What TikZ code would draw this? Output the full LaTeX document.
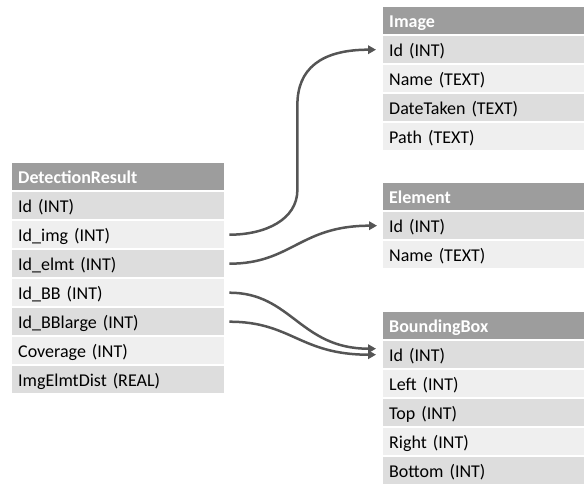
\documentclass[tikz,border=0pt]{standalone}
\usepackage{fontspec}
\setmainfont{Carlito}
\usetikzlibrary{arrows.meta}
\definecolor{hdrgray}{HTML}{9D9D9D}
\definecolor{rowdark}{HTML}{DDDDDD}
\definecolor{rowlight}{HTML}{EFEFEF}
\definecolor{linegray}{HTML}{555555}
\tikzset{
  cell/.style={rectangle, anchor=north west, minimum height=27pt, inner xsep=6pt, inner ysep=0pt,
    align=left, text height=14.5pt, text depth=0pt, font=\fontsize{18}{20}\selectfont},
  drcell/.style={cell, text width=200pt},
  rtcell/.style={cell, text width=189pt},
  hdr/.style={fill=hdrgray, text=white, font=\fontsize{18}{20}\selectfont\bfseries},
  rowA/.style={fill=rowdark},
  rowB/.style={fill=rowlight},
  conn/.style={draw=linegray, line width=2.5pt, -{Triangle[length=8pt,width=8.5pt]}}
}
\begin{document}
\begin{tikzpicture}[x=1pt,y=-1pt]
\path[use as bounding box] (0,0) rectangle (584,486);
% DetectionResult
\node[drcell,hdr]  (dhdr)  at (12,163) {DetectionResult};
\node[drcell,rowA] (did)   at (12,192) {Id (INT)};
\node[drcell,rowB] (dimg)  at (12,221) {Id\_img (INT)};
\node[drcell,rowA] (delmt) at (12,250) {Id\_elmt (INT)};
\node[drcell,rowB] (dbb)   at (12,279) {Id\_BB (INT)};
\node[drcell,rowA] (dbbl)  at (12,308) {Id\_BBlarge (INT)};
\node[drcell,rowB] (dcov)  at (12,337) {Coverage (INT)};
\node[drcell,rowA] (ddist) at (12,366) {ImgElmtDist (REAL)};
% Image
\node[rtcell,hdr]  (ihdr)  at (383,7) {Image};
\node[rtcell,rowA] (iid)   at (383,36) {Id (INT)};
\node[rtcell,rowB] (iname) at (383,65) {Name (TEXT)};
\node[rtcell,rowA] (idate) at (383,94) {DateTaken (TEXT)};
\node[rtcell,rowB] (ipath) at (383,123) {Path (TEXT)};
% Element
\node[rtcell,hdr]  (ehdr)  at (383,183) {Element};
\node[rtcell,rowA] (eid)   at (383,212) {Id (INT)};
\node[rtcell,rowB] (ename) at (383,241) {Name (TEXT)};
% BoundingBox
\node[rtcell,hdr]  (bhdr)  at (383,312) {BoundingBox};
\node[rtcell,rowA] (bid)   at (383,341) {Id (INT)};
\node[rtcell,rowB] (bleft) at (383,370) {Left (INT)};
\node[rtcell,rowA] (btop)  at (383,399) {Top (INT)};
\node[rtcell,rowB] (bright) at (383,428) {Right (INT)};
\node[rtcell,rowA] (bbot)  at (383,457) {Bottom (INT)};
% connectors
\draw[conn] ([xshift=5pt]dimg.east) .. controls +(36,0) and +(0,30) .. ++(68,-45)
   -- ++(0,-85) .. controls +(0,-35) and +(-56,0) .. ([xshift=-7pt]iid.west);
\draw[conn] ([xshift=5pt]delmt.east) .. controls +(62,0) and +(-77,0) .. ([xshift=-6pt]eid.west);
\draw[conn] ([xshift=5pt]dbb.east) .. controls +(62,0) and +(-76,0) .. ([xshift=-7pt,yshift=6pt]bid.west);
\draw[conn] ([xshift=5pt]dbbl.east) .. controls +(62,0) and +(-76,0) .. ([xshift=-7pt]bid.west);
\end{tikzpicture}
\end{document}
